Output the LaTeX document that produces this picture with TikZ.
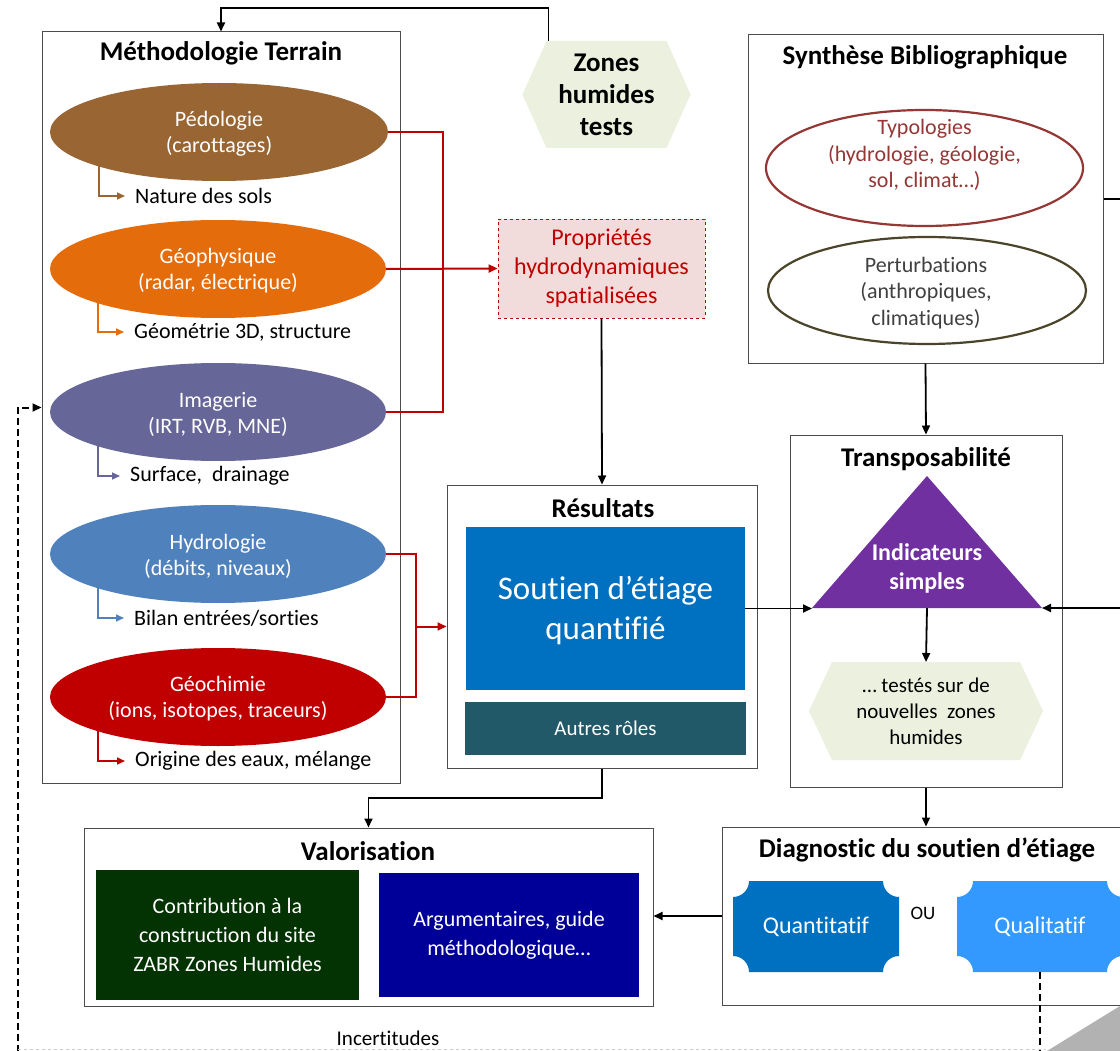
\documentclass[tikz,border=0pt]{standalone}
\usepackage{fontspec}
\setmainfont{Carlito}[Ligatures={NoCommon}]
\usetikzlibrary{arrows.meta,shapes.geometric,backgrounds,calc}
\definecolor{cbrown}{HTML}{996633}
\definecolor{corange}{HTML}{E46C0A}
\definecolor{cpurp}{HTML}{666699}
\definecolor{cblue}{HTML}{4F81BD}
\definecolor{cred}{HTML}{C00000}
\definecolor{cpink}{HTML}{F2DCDB}
\definecolor{chex}{HTML}{EBF1DE}
\definecolor{csout}{HTML}{0070C0}
\definecolor{cteal}{HTML}{215968}
\definecolor{ctypo}{HTML}{953735}
\definecolor{cpert}{HTML}{4A452A}
\definecolor{cviolet}{HTML}{7030A0}
\definecolor{cgreen}{HTML}{033303}
\definecolor{cnavy}{HTML}{000099}
\definecolor{cqual}{HTML}{3399FF}
\newcommand{\fsz}[2]{\fontsize{#1}{#2}\selectfont}
\newcommand{\plaquepath}[5]{%
  \fill[#5] (#1,#2+16) arc[start angle=270,end angle=360,radius=16pt] -- (#3-16,#2)
    arc[start angle=180,end angle=270,radius=16pt] -- (#3,#4-16)
    arc[start angle=90,end angle=180,radius=16pt] -- (#1+16,#4)
    arc[start angle=0,end angle=90,radius=16pt] -- cycle;}
\begin{document}
\begin{tikzpicture}[x=1pt,y=-1pt,
  box/.style={draw=black!70, line width=1pt, inner sep=0pt},
  ttl/.style={font=\bfseries\fsz{27}{32}, inner sep=0pt},
  ell/.style={ellipse, minimum width=336pt, minimum height=98pt, inner sep=0pt},
  elltxt/.style={inner sep=0pt, text=white, align=center, font=\fsz{22}{26}},
  sublbl/.style={inner sep=0pt, anchor=west, font=\fsz{22}{26}},
  subarr/.style={line width=1.6pt, -{Triangle[length=8pt,width=7pt]}},
  redl/.style={draw=cred, line width=2pt},
  blk/.style={draw=black, line width=1.8pt},
  arrtip/.style={-{Triangle[length=9pt,width=8pt]}},
  dashblk/.style={draw=black, line width=2pt, dash pattern=on 7pt off 4pt},
  ghost/.style={inner sep=0pt, outer sep=0pt},
]
\useasboundingbox (0,0) rectangle (1120,1051);

% ---------- Méthodologie Terrain ----------
\node[box, minimum width=358pt, minimum height=751pt] (meth) at (221,407.5) {};
\node[ttl] (methT) at (221,53) {Méthodologie Terrain};
\node[ell, fill=cbrown, minimum width=338pt] (ped) at (219,132) {};
\node[ell, fill=corange] (geo) at (218,269) {};
\node[ell, fill=cpurp] (ima) at (218,412) {};
\node[ell, fill=cblue] (hyd) at (218,554) {};
\node[ell, fill=cred] (gch) at (218,697) {};
\node[elltxt] (pedT) at (219,134) {Pédologie\\(carottages)};
\node[elltxt] (geoT) at (218,271) {Géophysique\\(radar, électrique)};
\node[elltxt] (imaT) at (218,414) {Imagerie\\(IRT, RVB, MNE)};
\node[elltxt] (hydT) at (218,556) {Hydrologie\\(débits, niveaux)};
\node[elltxt] (gchT) at (218,699) {Géochimie\\(ions, isotopes, traceurs)};
\node[sublbl] (nat) at (135,196) {Nature des sols};
\node[sublbl] (geom) at (134,332) {Géométrie 3D, structure};
\node[sublbl] (surf) at (130,476) {Surface,\ \ drainage};
\node[sublbl] (bil) at (134,618) {Bilan entrées/sorties};
\node[sublbl] (ori) at (135,761) {Origine des eaux, mélange};

% ---------- Propriétés ----------
\node[draw=cred, dashed, fill=cpink, line width=0.8pt, minimum width=207pt, minimum height=99pt,
  text=cred, align=center, font=\fsz{24}{29}, inner sep=0pt] (prop) at (601.5,268.5)
  {Propriétés\\hydrodynamiques\\spatialisées};

% ---------- Zones humides tests ----------
\node[ghost, minimum width=168pt, minimum height=107pt, align=center, font=\bfseries\fsz{27}{32}]
  (zones) at (606.5,94.5) {Zones\\humides\\tests};

% ---------- Synthèse ----------
\node[box, minimum width=355pt, minimum height=328pt] (syn) at (925.5,199) {};
\node[ttl] (synT) at (925,57) {Synthèse Bibliographique};
\node[ellipse, draw=ctypo, line width=2.2pt, minimum width=317pt, minimum height=116pt, inner sep=0pt]
  (typo) at (924.5,168) {};
\node[ghost, text=ctypo, align=center, font=\fsz{22}{26.5}] (typoT) at (924.5,155)
  {Typologies\\(hydrologie, géologie,\\sol, climat…)};
\node[ellipse, draw=cpert, line width=2.2pt, minimum width=318pt, minimum height=107pt, inner sep=0pt]
  (pert) at (927,290.5) {};
\node[ghost, text=black!75, align=center, font=\fsz{22}{26.5}] (pertT) at (926,293)
  {Perturbations\\(anthropiques,\\climatiques)};

% ---------- Transposabilité ----------
\node[box, minimum width=272pt, minimum height=352pt] (trans) at (926,611) {};
\node[ttl] (transT) at (926,459) {Transposabilité};
\node[ghost, minimum width=230pt, minimum height=132pt] (tri) at (927,542) {};
\node[ghost, align=center, text=white, font=\bfseries\fsz{24}{29}] (ind) at (927,568) {Indicateurs\\simples};
\node[ghost, minimum width=234pt, minimum height=98pt, align=center, font=\fsz{21}{26}]
  (test) at (926,711) {… testés sur de\\nouvelles\ \ zones\\humides};

% ---------- Résultats ----------
\node[box, minimum width=310pt, minimum height=283pt] (res) at (602,626.5) {};
\node[ttl] (resT) at (603,508) {Résultats};
\node[ghost, fill=csout, minimum width=279pt, minimum height=163pt] (sout) at (605.5,608.5) {};
\node[ghost, text=white, align=center, font=\fsz{33}{40}] (soutT) at (605.5,611) {Soutien d’étiage\\quantifié};
\node[ghost, fill=cteal, minimum width=281pt, minimum height=53pt, text=white,
  font=\fsz{21}{26}] (autres) at (605.5,728.5) {Autres rôles};

% ---------- Valorisation ----------
\node[box, minimum width=569pt, minimum height=178pt] (valo) at (368.5,917) {};
\node[ttl] (valoT) at (368,851) {Valorisation};
\node[ghost, fill=cgreen, minimum width=263pt, minimum height=130pt, text=white, align=center,
  font=\fsz{22}{29}] (contrib) at (227.5,935) {Contribution à la\\construction du site\\ZABR Zones Humides};
\node[ghost, fill=cnavy, minimum width=260pt, minimum height=124pt, text=white, align=center,
  font=\fsz{22}{29}] (argu) at (509,935) {Argumentaires, guide\\méthodologique…};

% ---------- Diagnostic ----------
\node[box, minimum width=412pt, minimum height=178pt] (diag) at (928,916) {};
\node[ttl] (diagT) at (927,850) {Diagnostic du soutien d’étiage};
\node[ghost, minimum width=166pt, minimum height=91pt, text=white, font=\fsz{24}{29}] (quant) at (816,926.5) {Quantitatif};
\node[ghost, minimum width=166pt, minimum height=91pt, text=white, font=\fsz{24}{29}] (qual) at (1040,926.5) {Qualitatif};
\node[ghost, font=\fsz{19}{23}] (ou) at (923,913) {OU};

\node[ghost, font=\fsz{21}{25}] (inc) at (388,1038) {Incertitudes};

% ---------- background shapes ----------
\begin{scope}[on background layer]
  \fill[white] (0,0) rectangle (1120,1051);
  \fill[chex] ([xshift=24pt]zones.north west) -- ([xshift=-24pt]zones.north east) -- (zones.east)
    -- ([xshift=-24pt]zones.south east) -- ([xshift=24pt]zones.south west) -- (zones.west) -- cycle;
  \fill[chex] ([xshift=23pt]test.north west) -- ([xshift=-23pt]test.north east) -- (test.east)
    -- ([xshift=-23pt]test.south east) -- ([xshift=23pt]test.south west) -- (test.west) -- cycle;
  \fill[cviolet] (tri.north) -- (tri.south east) -- (tri.south west) -- cycle;
  \plaquepath{733}{881}{899}{972}{csout}
  \plaquepath{957}{881}{1123}{972}{cqual}
  \fill[black!30] (1047,1051) -- (1120,1006) -- (1120,1051) -- cycle;
  % sub arrows
  \draw[subarr, draw=cbrown] ([xshift=-120pt]ped.center) |- ([xshift=-10pt]nat.west);
  \draw[subarr, draw=corange] ([xshift=-120pt]geo.center) |- ([xshift=-10pt]geom.west);
  \draw[subarr, draw=cpurp] ([xshift=-120pt]ima.center) |- ([xshift=-10pt]surf.west);
  \draw[subarr, draw=cblue] ([xshift=-120pt]hyd.center) |- ([xshift=-10pt]bil.west);
  \draw[subarr, draw=cred] ([xshift=-120pt]gch.center) |- ([xshift=-10pt]ori.west);
\end{scope}

% ---------- red connectors ----------
\coordinate (j1) at (443,269);
\draw[redl] (ped.east) -| (j1);
\draw[redl] (ima.east) -| (j1);
\draw[redl, arrtip] (geo.east) -- (prop.west);
\coordinate (j2) at (416,626.5);
\draw[redl] (hyd.east) -| (j2);
\draw[redl] (gch.east) -| (j2);
\draw[redl, arrtip] (j2) -- (res.west);

% ---------- black connectors ----------
\coordinate (ztop) at (548.5,8);
\draw[blk, arrtip] ([xshift=26pt]zones.north west) -- (ztop) -| (meth.north);
\draw[blk, arrtip] (prop.south) -- (res.north);
\draw[blk, arrtip] (syn.south) -- (trans.north);
\coordinate (rout) at (1125,199);
\draw[blk] (syn.east) -- (rout);
\draw[blk, arrtip] (sout.east) -- (sout.east -| tri.south west);
\coordinate (rin) at (1125,608);
\draw[blk, arrtip] (rin) -- (tri.south east);
\draw[blk, arrtip] (tri.south) -- (test.north);
\draw[blk, arrtip] (trans.south) -- (trans.south |- diag.north);
\draw[blk, arrtip] (diag.west) -- (diag.west -| valo.east);
\coordinate (rv) at (602,798);
\draw[blk, arrtip] (res.south) -- (rv) -| (valo.north);

% ---------- dashed ----------
\coordinate (lb) at (18,1052);
\draw[dashblk, arrtip] (lb) |- (meth.west);
\coordinate (qb) at (1040,1052);
\draw[dashblk] (qual.south) -- (qb);
\coordinate (bl) at (18,1049.5);
\coordinate (br) at (1046,1049.5);
\draw[black!20, dashed, line width=1.2pt] (bl) -- (br);
\end{tikzpicture}
\end{document}
